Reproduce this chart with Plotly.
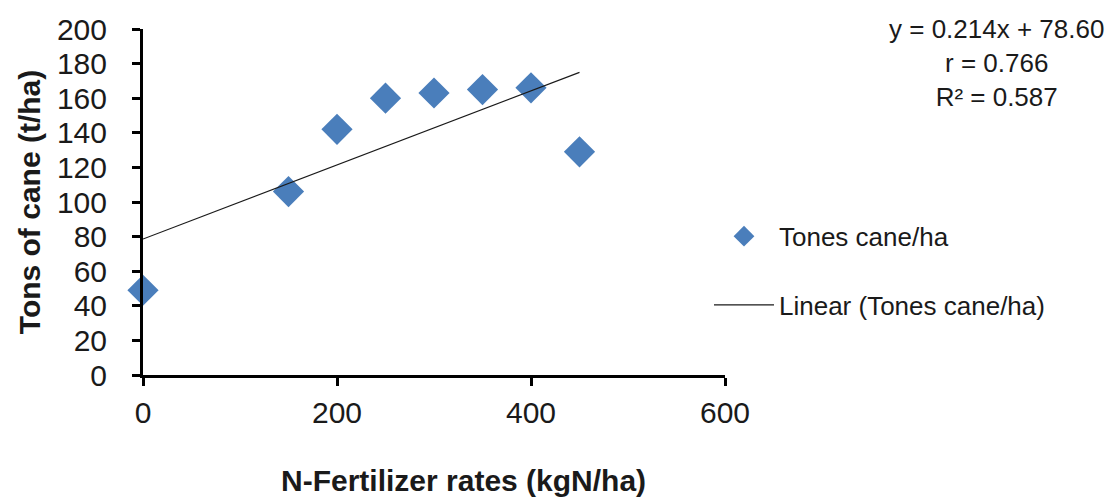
import plotly.graph_objects as go

# N-fertilizer rate (kgN/ha) and cane yield (t/ha)
n_rates = [0, 150, 200, 250, 300, 350, 400, 450]
cane_yield = [49, 106, 142, 160, 163, 165, 166, 129]

# Linear fit reported on the chart
slope = 0.214
intercept = 78.60
r_value = 0.766
r_squared = 0.587

x_ticks = [0, 200, 400, 600]
y_ticks = list(range(0, 201, 20))

FONT = "Liberation Sans Narrow, Arial Narrow, Liberation Sans, Arial, sans-serif"
BLUE = "#4a7ebb"
INK = "#1a1a1a"

fit_x = [min(n_rates), max(n_rates)]
fit_y = [slope * v + intercept for v in fit_x]

fig = go.Figure()
fig.add_trace(go.Scatter(
    x=n_rates, y=cane_yield, mode="markers", name="Tones cane/ha",
    marker=dict(symbol="diamond", size=24, color=BLUE),
    cliponaxis=False, legendgroup="a",
))
fig.add_trace(go.Scatter(
    x=fit_x, y=fit_y, mode="lines", name="Linear (Tones cane/ha)",
    line=dict(color=INK, width=1.2),
    cliponaxis=False, legendgroup="b",
))

fig.update_layout(
    width=1116, height=504,
    margin=dict(l=143, r=391, t=25, b=129),
    paper_bgcolor="white", plot_bgcolor="white",
    font=dict(family=FONT, size=30, color=INK),
    showlegend=True,
    legend=dict(
        x=0.9725, xanchor="left", xref="paper",
        y=0.469, yanchor="top",
        font=dict(family=FONT, size=26, color=INK),
        tracegroupgap=32, itemwidth=60,
        bgcolor="rgba(0,0,0,0)",
    ),
    xaxis=dict(
        range=[0, 600], tickvals=x_ticks, ticks="outside", ticklen=8, tickwidth=3,
        tickcolor="black", showline=True, linecolor="black", linewidth=3,
        showgrid=False, zeroline=False, ticklabelstandoff=1,
    ),
    yaxis=dict(
        range=[0, 200], tickvals=y_ticks, ticks="outside", ticklen=8, tickwidth=3,
        tickcolor="black", showline=True, linecolor="black", linewidth=3,
        showgrid=False, zeroline=False, ticklabelstandoff=19,
        title=dict(text="<b>Tons of cane (t/ha)</b>", standoff=8,
                   font=dict(family=FONT, size=30, color=INK)),
    ),
)

# x-axis title, set a little right of the plot centre
fig.add_annotation(
    text="<b>N-Fertilizer rates (kgN/ha)</b>", xref="paper", yref="paper",
    x=(463 - 143) / 582, y=-(482 - 375) / 350, xanchor="center", yanchor="middle",
    showarrow=False, font=dict(family=FONT, size=30, color=INK),
)

eq_text = (f"y = {slope:.3f}x + {intercept:.2f}<br>r = {r_value:.3f}"
           f"<br>R² = {r_squared:.3f}")
fig.add_annotation(
    text=eq_text, xref="paper", yref="paper", x=(997 - 143) / 582, y=1.05,
    xanchor="center", yanchor="top", showarrow=False, align="center",
    font=dict(family=FONT, size=26, color=INK),
)

fig.write_html("out.html")
